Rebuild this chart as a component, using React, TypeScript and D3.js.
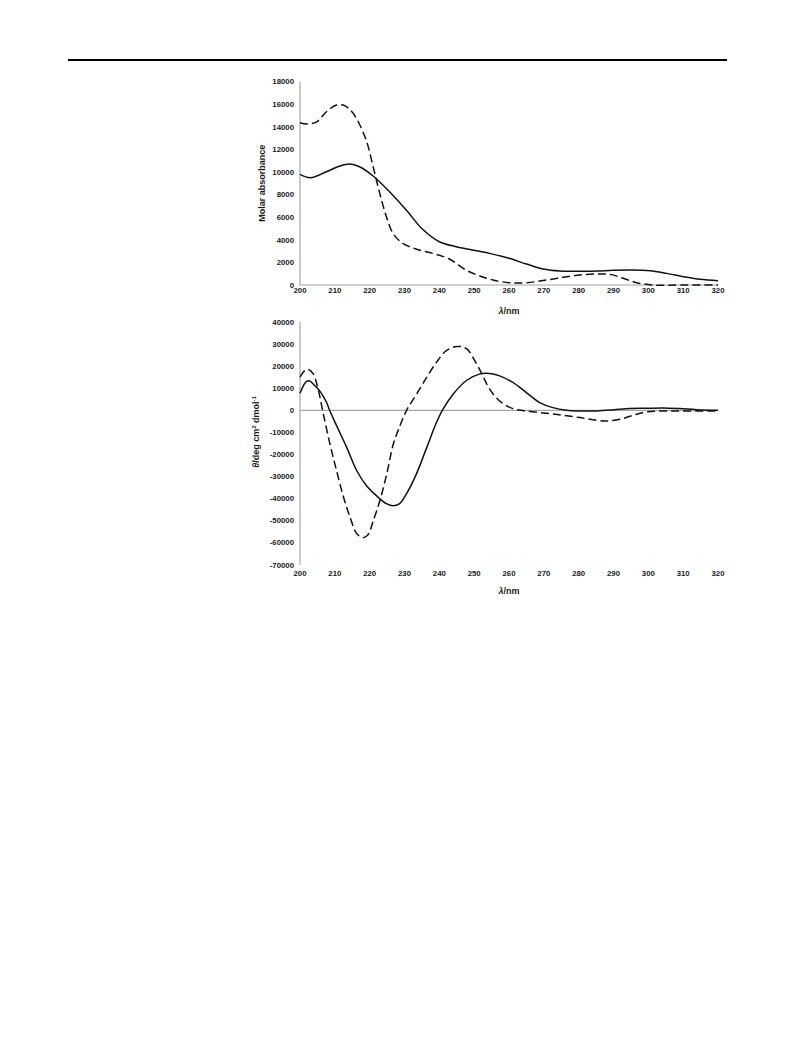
import React from "react";
import * as d3 from "d3";

// ---------- DATA ----------
const absWavelengthsSolid = [200, 203, 207.6, 211.4, 214.3, 217.1, 221, 225.7, 230.5, 235.2, 240, 244.8, 249.5, 254.4, 260, 265, 269.8, 274.6, 280.3, 285.1, 289.9, 294.7, 300.5, 305.3, 310.1, 314.9, 320];
const absSolid = [9800, 9500, 10030, 10530, 10710, 10470, 9650, 8260, 6640, 4930, 3830, 3390, 3100, 2800, 2360, 1860, 1420, 1240, 1210, 1240, 1300, 1330, 1270, 1030, 740, 500, 380];

const absWavelengthsDashed = [200, 201.9, 204.8, 207.6, 210.5, 212.4, 214.3, 216.2, 219, 221, 222.9, 224.8, 226.7, 229.5, 233.3, 238.1, 242.9, 247.6, 251.6, 255.4, 260, 265, 270.7, 275.5, 280.3, 285.1, 289, 292.8, 296.7, 301.5, 309.2, 320];
const absDashed = [14370, 14250, 14450, 15340, 15930, 15930, 15540, 14750, 12830, 10470, 8110, 6050, 4570, 3690, 3190, 2800, 2300, 1330, 800, 450, 200, 200, 440, 680, 885, 970, 940, 590, 200, 0, 0, 0];

const cdWavelengthsSolid = [200, 201, 201.8, 202.8, 204.2, 205.6, 207.6, 208.5, 210.5, 213.4, 216.3, 219.1, 222, 224.8, 226.7, 228.6, 230.5, 233.4, 236.4, 239.2, 241.1, 244, 247.8, 251.7, 254.4, 257.3, 261.1, 265, 268.8, 272.6, 276.5, 280.3, 285.1, 289.9, 294.6, 299.4, 304.2, 309, 313.8, 320];
const cdSolid = [7700, 11200, 13000, 13300, 11200, 8900, 3640, 0, -6970, -16800, -27400, -34200, -38800, -42300, -43300, -42300, -38000, -28900, -16800, -5450, 600, 7400, 13500, 16500, 16700, 15600, 12600, 8000, 3500, 1200, 0, -300, -300, 150, 760, 900, 1060, 760, 300, 0];

const cdWavelengthsDashed = [200, 201.4, 202.4, 203.8, 205.3, 206.7, 208.6, 210.5, 212.4, 214.4, 216.3, 218.2, 219.6, 221, 222.9, 224.9, 226.8, 228.7, 230.6, 233.5, 236.4, 239.2, 242.1, 245, 247.8, 250.7, 252.5, 254.4, 257.3, 261.1, 265, 270.7, 275.5, 280.3, 285.1, 287.9, 291.8, 295.6, 299.4, 304.2, 309, 320];
const cdDashed = [15000, 18000, 18500, 16500, 8900, -1700, -15300, -27400, -38800, -48600, -55900, -57700, -56200, -50200, -41100, -28900, -15300, -7000, 0, 7400, 15000, 21800, 27100, 28900, 27900, 21000, 15500, 9700, 4200, 760, -300, -1360, -2270, -3300, -4550, -4850, -4100, -2270, -760, -300, -300, -300];

const xTicks = [200, 210, 220, 230, 240, 250, 260, 270, 280, 290, 300, 310, 320];
const absTicks = [0, 2000, 4000, 6000, 8000, 10000, 12000, 14000, 16000, 18000];
const cdTicks = [40000, 30000, 20000, 10000, 0, -10000, -20000, -30000, -40000, -50000, -60000, -70000];

// ---------- LAYOUT ----------
const W = 793;
const H = 1053;
const X0 = 300;
const X1 = 718;

const FONT = "Liberation Sans, Arial, sans-serif";
const AXIS = "#a6a6a6";
const TXT = "#1a1a1a";

export default function App() {
  const x = d3.scaleLinear().domain([200, 320]).range([X0, X1]);
  const yTop = d3.scaleLinear().domain([0, 18000]).range([285, 81.7]);
  const yBot = d3.scaleLinear().domain([-70000, 40000]).range([564.8, 322]);

  const mk = (xs: number[], ys: number[], ys_: d3.ScaleLinear<number, number>) =>
    d3
      .line<number>()
      .x((_, i) => x(xs[i]))
      .y((d) => ys_(d))
      .curve(d3.curveCatmullRom.alpha(0.5))(ys) || "";

  const tickStyle = { fontFamily: FONT, fontSize: 7.8, fontWeight: 700, fill: TXT } as const;

  return (
    <div style={{ position: "absolute", left: 0, top: 0 }}>
      <svg width={W} height={H} style={{ display: "block", background: "#fff" }}>
        {/* header rule */}
        <line x1={68} x2={727} y1={60} y2={60} stroke="#000" strokeWidth={2} />

        {/* ---------- top panel ---------- */}
        <line x1={X0} x2={X0} y1={yTop(18000)} y2={yTop(0)} stroke={AXIS} strokeWidth={1.2} />
        <line x1={X0} x2={X1} y1={yTop(0)} y2={yTop(0)} stroke={AXIS} strokeWidth={1.2} />
        {absTicks.map((t) => (
          <text key={t} x={294} y={yTop(t)} dy="0.35em" textAnchor="end" {...tickStyle}>
            {t}
          </text>
        ))}
        {xTicks.map((t) => (
          <text key={t} x={x(t)} y={293} textAnchor="middle" {...tickStyle}>
            {t}
          </text>
        ))}
        <text
          transform={`translate(265,${yTop(9000)}) rotate(-90)`}
          textAnchor="middle"
          style={{ fontFamily: FONT, fontSize: 9, fontWeight: 700, fill: TXT }}
        >
          Molar absorbance
        </text>
        <text x={509} y={313.5} textAnchor="middle" style={{ fontFamily: FONT, fontSize: 9, fontWeight: 700, fill: TXT }}>
          <tspan fontStyle="italic">λ</tspan>/nm
        </text>
        <path d={mk(absWavelengthsSolid, absSolid, yTop)} fill="none" stroke="#111" strokeWidth={1.5} />
        <path d={mk(absWavelengthsDashed, absDashed, yTop)} fill="none" stroke="#111" strokeWidth={1.5} strokeDasharray="8,4" />

        {/* ---------- bottom panel ---------- */}
        <line x1={X0} x2={X0} y1={yBot(40000)} y2={yBot(-70000)} stroke={AXIS} strokeWidth={1.2} />
        <line x1={X0} x2={X1} y1={yBot(0)} y2={yBot(0)} stroke={AXIS} strokeWidth={1.2} />
        {cdTicks.map((t) => (
          <text key={t} x={294} y={yBot(t)} dy="0.35em" textAnchor="end" {...tickStyle}>
            {t}
          </text>
        ))}
        {xTicks.map((t) => (
          <text key={t} x={x(t)} y={576} textAnchor="middle" {...tickStyle}>
            {t}
          </text>
        ))}
        <text
          transform={`translate(259,432) rotate(-90)`}
          textAnchor="middle"
          style={{ fontFamily: FONT, fontSize: 9, fontWeight: 700, fill: TXT }}
        >
          <tspan fontStyle="italic">θ</tspan>/deg cm
          <tspan fontSize={6} dy={-3.5}>2</tspan>
          <tspan dy={3.5}> dmol</tspan>
          <tspan fontSize={6} dy={-3.5}>-1</tspan>
        </text>
        <text x={509} y={594} textAnchor="middle" style={{ fontFamily: FONT, fontSize: 9, fontWeight: 700, fill: TXT }}>
          <tspan fontStyle="italic">λ</tspan>/nm
        </text>
        <path d={mk(cdWavelengthsSolid, cdSolid, yBot)} fill="none" stroke="#111" strokeWidth={1.5} />
        <path d={mk(cdWavelengthsDashed, cdDashed, yBot)} fill="none" stroke="#111" strokeWidth={1.5} strokeDasharray="8,4" />
      </svg>
    </div>
  );
}
